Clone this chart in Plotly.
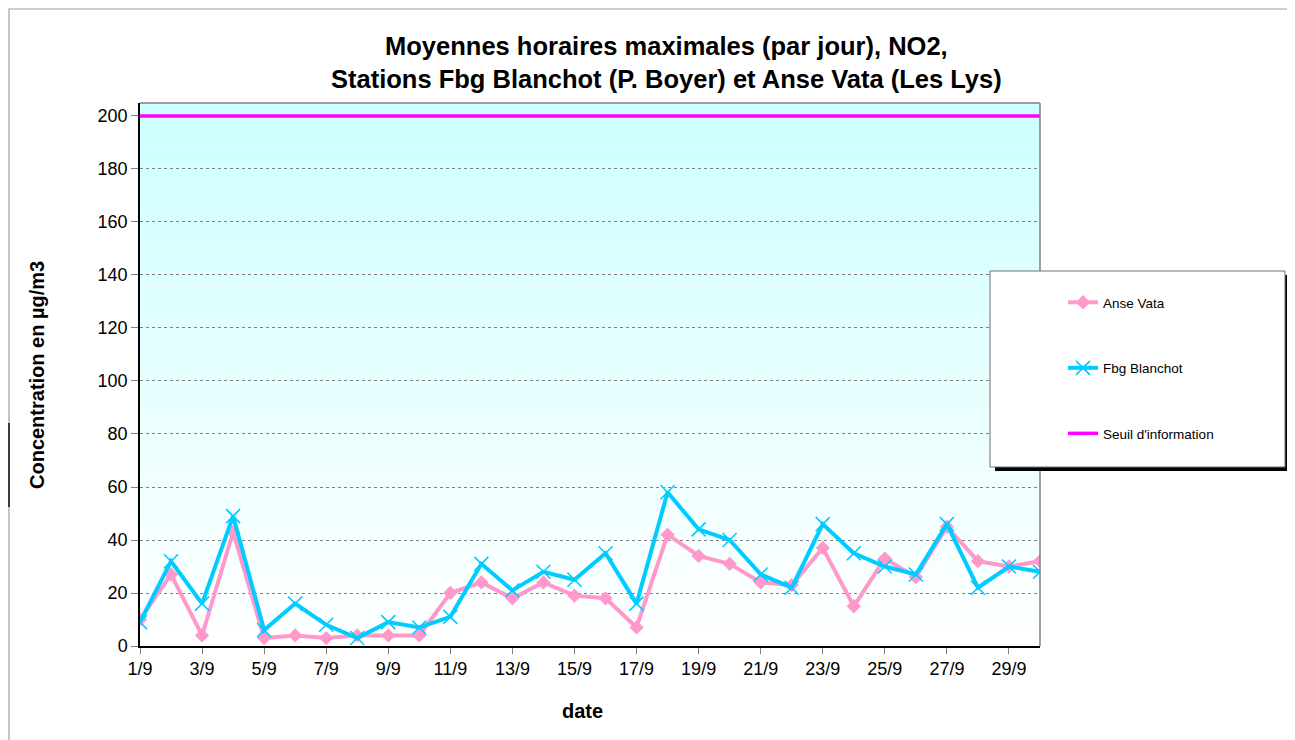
import plotly.graph_objects as go

days = [f"{d}/9" for d in range(1, 31)]
anse_vata = [10, 27, 4, 43, 3, 4, 3, 4, 4, 4, 20, 24, 18, 24, 19, 18, 7, 42, 34, 31,
             24, 23, 37, 15, 33, 26, 45, 32, 30, 32]
fbg_blanchot = [9, 32, 16, 49, 6, 16, 8, 3, 9, 7, 11, 31, 21, 28, 25, 35, 16, 58, 44, 40,
                27, 22, 46, 35, 30, 27, 46, 22, 30, 28]
seuil = [200] * 30
tick_labels = days[::2]
y_ticks = list(range(0, 201, 20))

FONT = "Liberation Sans, Arial, sans-serif"
OFF = 8  # page body margin
L, R, T, B = 140, 1040, 103, 646  # plot area in screen px
W, H = 1295 - OFF, 740 - OFF


def px(x):
    return (x - L) / (R - L)


def py(y):
    return (B - y) / (B - T)


fig = go.Figure()
fig.add_trace(go.Scatter(x=days, y=anse_vata, name="Anse Vata", mode="lines+markers",
                         line=dict(color="#FF99CC", width=4),
                         marker=dict(symbol="diamond", size=11, color="#FF99CC"),
                         legendgroup="a"))
fig.add_trace(go.Scatter(x=days, y=fbg_blanchot, name="Fbg Blanchot", mode="lines+markers",
                         line=dict(color="#00CCFF", width=4),
                         marker=dict(symbol="x-thin-open", size=14,
                                     line=dict(color="#00CCFF", width=1.6)),
                         legendgroup="b"))
fig.add_trace(go.Scatter(x=days, y=seuil, name="Seuil d'information", mode="lines",
                         line=dict(color="#FF00FF", width=3.5), legendgroup="c"))

shapes = []
n = 80
for i in range(n):
    t = i / (n - 1)
    r = int(round(204 + (255 - 204) * t))
    shapes.append(dict(type="rect", xref="paper", yref="paper", x0=0, x1=1,
                       y1=1 - i / n, y0=1 - (i + 1) / n, line=dict(width=0),
                       fillcolor=f"rgb({r},255,255)", layer="below"))
shapes.append(dict(type="line", xref="paper", yref="paper", x0=0, x1=1, y0=1, y1=1,
                   line=dict(color="#808080", width=1.5), layer="above"))
shapes.append(dict(type="line", xref="paper", yref="paper", x0=1, x1=1, y0=0, y1=1,
                   line=dict(color="#808080", width=1.5), layer="above"))
# outer chart frame (left, top, right)
shapes.append(dict(type="path", xref="paper", yref="paper",
                   path=f"M {px(9)} {py(745)} L {px(9)} {py(9)} L {px(1293)} {py(9)} L {px(1293)} {py(745)}",
                   line=dict(color="#A0A0A0", width=1.2), layer="below"))
shapes.append(dict(type="line", xref="paper", yref="paper", x0=px(9), x1=px(9),
                   y0=py(507), y1=py(423), line=dict(color="black", width=1.4)))
shapes.append(dict(type="rect", xref="paper", yref="paper", x0=px(995), x1=px(1289),
                   y0=py(471), y1=py(275), line=dict(width=0), fillcolor="black",
                   layer="above"))
shapes.append(dict(type="rect", xref="paper", yref="paper", x0=px(990), x1=px(1285),
                   y0=py(467), y1=py(271), line=dict(color="#707070", width=1),
                   fillcolor="white", layer="above"))

annotations = [
    dict(text="<b>Moyennes horaires maximales (par jour), NO2,<br>"
              "Stations Fbg Blanchot (P. Boyer) et Anse Vata (Les Lys)</b>",
         xref="paper", yref="paper", x=px(666), y=py(63), xanchor="center",
         yanchor="middle", showarrow=False, font=dict(size=25.5, color="black", family=FONT)),
    dict(text="<b>Concentration en µg/m3</b>", xref="paper", yref="paper",
         x=px(37), y=py(375), textangle=-90, showarrow=False, xanchor="center",
         yanchor="middle", font=dict(size=20, color="black", family=FONT)),
    dict(text="<b>date</b>", xref="paper", yref="paper", x=px(582), y=py(711),
         showarrow=False, xanchor="center", yanchor="middle",
         font=dict(size=20, color="black", family=FONT)),
]

fig.update_layout(
    width=W, height=H,
    margin=dict(l=L - OFF, r=1295 - R, t=T - OFF, b=740 - B, pad=0),
    paper_bgcolor="white", plot_bgcolor="white",
    font=dict(family=FONT, color="black"),
    shapes=shapes, annotations=annotations,
    showlegend=True,
    legend=dict(x=px(1063), y=py(287), xanchor="left", yanchor="top",
                bgcolor="rgba(0,0,0,0)", borderwidth=0,
                font=dict(size=13.5, color="black", family=FONT),
                tracegroupgap=45, traceorder="grouped"),
    xaxis=dict(type="category", range=[0, 29], tickmode="array", tickvals=tick_labels,
               ticktext=tick_labels, showgrid=False, showline=True, linecolor="black",
               linewidth=1.5, ticks="outside", ticklen=6, tickcolor="#808080",
               tickfont=dict(size=18), zeroline=False),
    yaxis=dict(range=[0, 204.9], tickvals=y_ticks, showgrid=True, gridcolor="#808080",
               griddash="dot", gridwidth=1, showline=True, linecolor="black",
               linewidth=1.5, ticks="outside", ticklen=7, tickcolor="#808080",
               tickfont=dict(size=18), zeroline=False),
)

fig.write_html("out.html")
